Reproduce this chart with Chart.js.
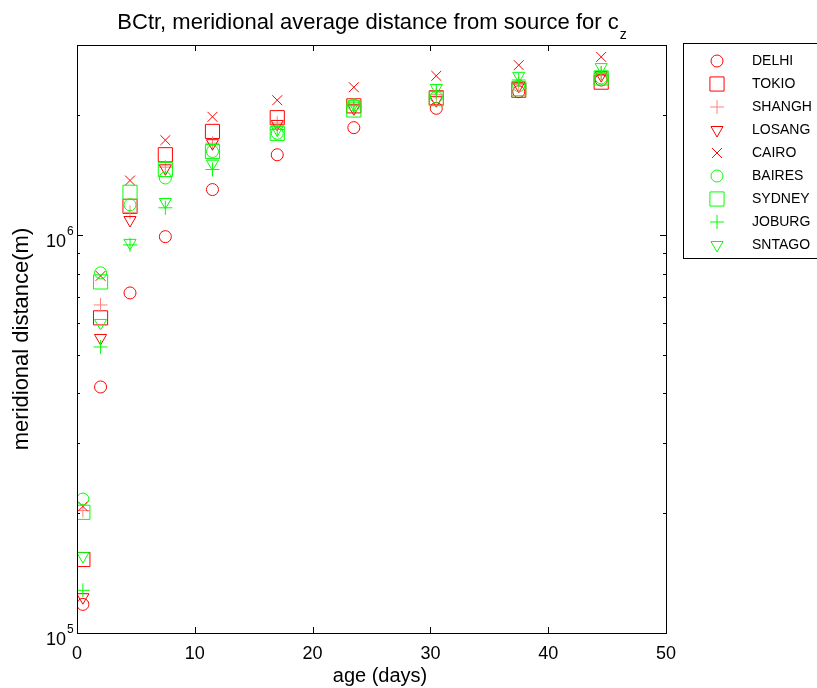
<!DOCTYPE html>
<html>
<head>
<meta charset="utf-8">
<script src="https://cdn.jsdelivr.net/npm/chart.js@4.4.1/dist/chart.umd.min.js"></script>
<style>
  html, body { margin: 0; padding: 0; background: #fff; }
</style>
</head>
<body>
<canvas id="chart" width="817" height="688"></canvas>
<script>
// ages (days) at which each city was sampled
const ages = [0.5, 2, 4.5, 7.5, 11.5, 17, 23.5, 30.5, 37.5, 44.5];
const cities = ['DELHI', 'TOKIO', 'SHANGH', 'LOSANG', 'CAIRO', 'BAIRES', 'SYDNEY', 'JOBURG', 'SNTAGO'];

// meridional distance (m)
const delhi  = [1.18e5, 4.15e5, 7.15e5, 0.99e6, 1.30e6, 1.59e6, 1.86e6, 2.08e6, 2.29e6, 2.45e6];
const tokio  = [1.53e5, 6.19e5, 1.18e6, 1.59e6, 1.82e6, 1.97e6, 2.11e6, 2.21e6, 2.31e6, 2.42e6];
const shangh = [2.03e5, 6.67e5, 1.14e6, 1.48e6, 1.70e6, 1.91e6, 2.12e6, 2.25e6, 2.39e6, 2.55e6];
const losang = [1.23e5, 5.51e5, 1.09e6, 1.47e6, 1.70e6, 1.90e6, 2.08e6, 2.18e6, 2.37e6, 2.52e6];
const cairo  = [2.08e5, 7.89e5, 1.37e6, 1.73e6, 1.98e6, 2.18e6, 2.35e6, 2.51e6, 2.67e6, 2.80e6];
const baires = [2.17e5, 8.03e5, 1.19e6, 1.39e6, 1.62e6, 1.80e6, 2.12e6, 2.22e6, 2.37e6, 2.48e6];
const sydney = [2.01e5, 7.62e5, 1.28e6, 1.46e6, 1.62e6, 1.80e6, 2.06e6, 2.20e6, 2.33e6, 2.48e6];
const joburg = [1.28e5, 5.23e5, 0.944e6, 1.17e6, 1.46e6, 1.84e6, 2.11e6, 2.29e6, 2.45e6, 2.55e6];
const sntago = [1.56e5, 6.01e5, 0.955e6, 1.21e6, 1.51e6, 1.84e6, 2.13e6, 2.34e6, 2.51e6, 2.64e6];

const xTicks = [0, 10, 20, 30, 40, 50];
const yDecades = [5, 6];
const yMinor = [2e5, 3e5, 4e5, 5e5, 6e5, 7e5, 8e5, 9e5, 2e6];

const RED = '#ff0000';
const GREEN = '#00ff00';
const PINK = '#ff8080';

const series = [delhi, tokio, shangh, losang, cairo, baires, sydney, joburg, sntago];
const styles = [
  { color: RED,   shape: 'circle',   r: 6,   rot: 0 },
  { color: RED,   shape: 'rect',     r: 10,  rot: 0 },
  { color: PINK,  shape: 'cross',    r: 7,   rot: 0 },
  { color: RED,   shape: 'triangle', r: 7,   rot: 180 },
  { color: RED,   shape: 'crossRot', r: 7,   rot: 0 },
  { color: GREEN, shape: 'circle',   r: 6,   rot: 0 },
  { color: GREEN, shape: 'rect',     r: 10,  rot: 0 },
  { color: GREEN, shape: 'cross',    r: 7,   rot: 0 },
  { color: GREEN, shape: 'triangle', r: 7,   rot: 180 }
];

const datasets = cities.map((name, i) => ({
  label: name,
  data: ages.map((a, j) => ({ x: a, y: series[i][j] })),
  pointStyle: styles[i].shape,
  pointRadius: styles[i].r,
  pointRotation: styles[i].rot,
  borderColor: styles[i].color,
  backgroundColor: 'rgba(0,0,0,0)',
  pointBorderWidth: 1,
  showLine: false,
  order: cities.length - i
}));

const FONT = '"Liberation Sans", Arial, sans-serif';

// frame, inward ticks, log labels, titles and legend
const decorations = {
  id: 'decorations',
  afterDraw(chart) {
    const ctx = chart.ctx;
    const a = chart.chartArea;
    const xs = chart.scales.x;
    const ys = chart.scales.y;
    ctx.save();
    ctx.strokeStyle = '#000';
    ctx.lineWidth = 1;
    ctx.strokeRect(a.left + 0.5, a.top + 0.5, a.right - a.left, a.bottom - a.top);

    ctx.beginPath();
    xTicks.forEach(v => {
      const px = Math.round(xs.getPixelForValue(v)) + 0.5;
      ctx.moveTo(px, a.bottom); ctx.lineTo(px, a.bottom - 6);
      ctx.moveTo(px, a.top); ctx.lineTo(px, a.top + 6);
    });
    yDecades.forEach(e => {
      const py = Math.round(ys.getPixelForValue(Math.pow(10, e))) + 0.5;
      ctx.moveTo(a.left, py); ctx.lineTo(a.left + 6, py);
      ctx.moveTo(a.right, py); ctx.lineTo(a.right - 6, py);
    });
    yMinor.forEach(v => {
      const py = Math.round(ys.getPixelForValue(v)) + 0.5;
      ctx.moveTo(a.left, py); ctx.lineTo(a.left + 3, py);
      ctx.moveTo(a.right, py); ctx.lineTo(a.right - 3, py);
    });
    ctx.stroke();

    // y tick labels 10^n
    ctx.fillStyle = '#000';
    yDecades.forEach(e => {
      const py = ys.getPixelForValue(Math.pow(10, e));
      ctx.font = '18px ' + FONT;
      ctx.textAlign = 'right';
      ctx.textBaseline = 'middle';
      ctx.fillText('10', 66, py + 7);
      ctx.font = '12px ' + FONT;
      ctx.textAlign = 'left';
      ctx.fillText(String(e), 67, py - 3);
    });

    // title with subscript
    const t1 = 'BCtr, meridional average distance from source for c';
    ctx.font = '22px ' + FONT;
    const w1 = ctx.measureText(t1).width;
    ctx.font = '14px ' + FONT;
    const w2 = ctx.measureText('z').width;
    const cx = (a.left + a.right) / 2;
    const x0 = cx - (w1 + w2) / 2;
    ctx.textAlign = 'left';
    ctx.textBaseline = 'alphabetic';
    ctx.font = '22px ' + FONT;
    ctx.fillText(t1, x0, 29);
    ctx.font = '14px ' + FONT;
    ctx.fillText('z', x0 + w1 + 1, 39);

    // axis titles
    ctx.font = '20px ' + FONT;
    ctx.textAlign = 'center';
    ctx.textBaseline = 'middle';
    ctx.fillText('age (days)', 380, 676);
    ctx.save();
    ctx.translate(22, (a.top + a.bottom) / 2);
    ctx.rotate(-Math.PI / 2);
    ctx.font = '22px ' + FONT;
    ctx.fillText('meridional distance(m)', 0, 0);
    ctx.restore();

    // legend
    ctx.strokeStyle = '#000';
    ctx.strokeRect(683.5, 43.5, 140, 215);
    ctx.font = '14px ' + FONT;
    ctx.textAlign = 'left';
    cities.forEach((name, i) => {
      const y = 61 + i * 23;
      const s = styles[i];
      ctx.strokeStyle = s.color;
      ctx.fillStyle = 'rgba(0,0,0,0)';
      Chart.helpers.drawPoint(ctx, {
        pointStyle: s.shape, radius: s.r, rotation: s.rot, borderWidth: 1
      }, 717, y);
      ctx.fillStyle = '#000';
      ctx.fillText(name, 752, y);
    });
    ctx.restore();
  }
};

new Chart(document.getElementById('chart').getContext('2d'), {
  type: 'scatter',
  data: { datasets: datasets },
  options: {
    responsive: false,
    animation: false,
    devicePixelRatio: 1,
    events: [],
    layout: { padding: { left: 0, top: 45, right: 151, bottom: 0 } },
    plugins: { legend: { display: false }, title: { display: false }, tooltip: { enabled: false } },
    scales: {
      x: {
        type: 'linear',
        min: 0,
        max: 50,
        afterBuildTicks: s => { s.ticks = xTicks.map(v => ({ value: v })); },
        ticks: { color: '#000', font: { size: 18, family: FONT }, padding: 10, maxRotation: 0 },
        grid: { display: false, drawTicks: false },
        border: { display: false },
        afterFit: s => { s.height = 55; }
      },
      y: {
        type: 'logarithmic',
        min: 1e5,
        max: 3e6,
        ticks: { display: false },
        grid: { display: false, drawTicks: false },
        border: { display: false },
        afterFit: s => { s.width = 77; }
      }
    }
  },
  plugins: [decorations]
});
</script>
</body>
</html>
